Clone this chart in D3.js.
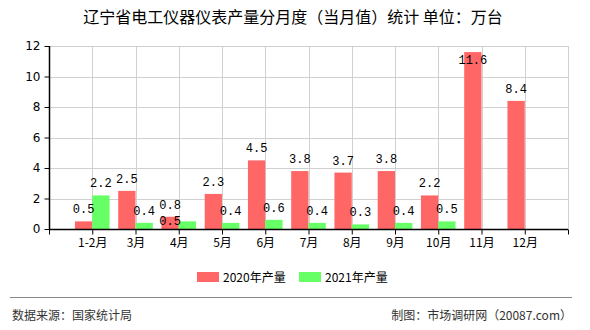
<!DOCTYPE html>
<html>
<head>
<meta charset="utf-8">
<script src="https://cdn.jsdelivr.net/npm/d3@7/dist/d3.min.js"></script>
<style>
  body { margin: 0; background: #fff; }
  svg { display: block; font-family: "Noto Sans CJK SC", "Noto Sans", sans-serif; }
</style>
</head>
<body>
<div id="chart"></div>
<script>
// data
const categories = ["1-2月", "3月", "4月", "5月", "6月", "7月", "8月", "9月", "10月", "11月", "12月"];
const values2020 = [0.5, 2.5, 0.8, 2.3, 4.5, 3.8, 3.7, 3.8, 2.2, 11.6, 8.4];
const values2021 = [2.2, 0.4, 0.5, 0.4, 0.6, 0.4, 0.3, 0.4, 0.5, null, null];
const yTicks = [0, 2, 4, 6, 8, 10, 12];
const seriesNames = ["2020年产量", "2021年产量"];
const colors = ["#ff6666", "#66ff66"];

const W = 590, H = 330;
const plot = { left: 49, right: 568, top: 46, bottom: 229 };

const svg = d3.select("#chart").append("svg")
    .attr("width", W).attr("height", H);
svg.append("rect").attr("width", W).attr("height", H).attr("fill", "#fff");

// title
svg.append("text")
    .attr("x", 293).attr("y", 23)
    .attr("text-anchor", "middle")
    .attr("font-size", "16px")
    .attr("fill", "#000")
    .text("辽宁省电工仪器仪表产量分月度（当月值）统计 单位：万台");

// scales
const x = d3.scalePoint()
    .domain(categories)
    .range([plot.left, plot.right])
    .padding(1);
const step = x.step();
const bw = step * 0.4;

const y = d3.scaleLinear()
    .domain([0, 12])
    .range([plot.bottom, plot.top]);

// grid
const grid = svg.append("g").attr("stroke", "#d0d0d0").attr("stroke-width", 1);
yTicks.filter(t => t > 0).forEach(t => {
    grid.append("line")
        .attr("x1", plot.left).attr("x2", plot.right)
        .attr("y1", Math.round(y(t)) + 0.5).attr("y2", Math.round(y(t)) + 0.5);
});
categories.concat([null]).forEach((c, i) => {
    const xx = c ? x(c) : plot.right;
    grid.append("line")
        .attr("x1", Math.round(xx) + 0.5).attr("x2", Math.round(xx) + 0.5)
        .attr("y1", plot.top).attr("y2", plot.bottom);
});

// bars
const series = [values2020, values2021];
series.forEach((vals, s) => {
    svg.append("g").selectAll("rect")
        .data(vals.map((v, i) => ({ c: categories[i], v })).filter(d => d.v != null))
        .join("rect")
        .attr("x", d => s === 0 ? x(d.c) - bw : x(d.c))
        .attr("y", d => y(d.v))
        .attr("width", bw)
        .attr("height", d => plot.bottom - y(d.v))
        .attr("fill", colors[s]);
});

// axes
const yAxis = svg.append("g")
    .attr("transform", `translate(${plot.left + 0.5},0)`)
    .call(d3.axisLeft(y).tickValues(yTicks).tickSize(5).tickPadding(4).tickFormat(d3.format("d")));
const xAxis = svg.append("g")
    .attr("transform", `translate(0,${plot.bottom + 0.5})`)
    .call(d3.axisBottom(x).tickSize(5).tickPadding(4));
// ticks at both ends of the x axis
[plot.left, plot.right].forEach(xx => {
    xAxis.append("line")
        .attr("x1", xx + 0.5).attr("x2", xx + 0.5)
        .attr("y1", 0).attr("y2", 5)
        .attr("stroke", "#000");
});
[yAxis, xAxis].forEach(a => {
    a.select(".domain").attr("stroke", "#000").attr("stroke-width", 1.5);
    a.selectAll(".tick line").attr("stroke", "#000");
    a.selectAll("text").attr("font-size", "12px").attr("fill", "#000")
        .attr("font-family", "'DejaVu Sans', sans-serif");
});
xAxis.select(".domain").attr("d", `M${plot.left},0H${plot.right}`);
yAxis.select(".domain").attr("d", `M0,${plot.bottom}V${plot.top}`);
xAxis.selectAll(".tick text").attr("font-family", "'Noto Sans CJK SC', sans-serif");

// value labels
const labelW = 20, labelH = 10;
const labels = [];
series.forEach((vals, s) => {
    vals.forEach((v, i) => {
        if (v == null) return;
        const c = categories[i];
        let cx = s === 0 ? x(c) - bw / 2 : x(c) + bw / 2;
        let base = y(v) - 8;
        // keep the label inside the plot: put it just under the bar top
        if (base - labelH < plot.top) base = y(v) + 12;
        // move the second label under the first one when they collide
        const other = labels.find(l => l.i === i && l.s !== s);
        if (other && Math.abs(other.cx - cx) < labelW && Math.abs(other.base - base) < labelH + 2) {
            cx = other.cx;
            base = other.base + 16;
        }
        labels.push({ i, s, cx, base, v });
    });
});
svg.append("g").selectAll("text")
    .data(labels)
    .join("text")
    .attr("x", d => d.cx)
    .attr("y", d => d.base)
    .attr("text-anchor", "middle")
    .attr("font-size", "12px")
    .attr("font-family", "'Liberation Mono', monospace")
    .attr("fill", "#000")
    .text(d => d3.format(".1f")(d.v));

// legend
const legend = svg.append("g");
[{ x: 197 }, { x: 299 }].forEach((p, i) => {
    legend.append("rect")
        .attr("x", p.x).attr("y", 272)
        .attr("width", 22).attr("height", 10)
        .attr("fill", colors[i]);
    legend.append("text")
        .attr("x", p.x + 26).attr("y", 282)
        .attr("font-size", "12px")
        .attr("fill", "#000")
        .text(seriesNames[i]);
});

// footer
svg.append("line")
    .attr("x1", 10).attr("x2", 572)
    .attr("y1", 297.5).attr("y2", 297.5)
    .attr("stroke", "#888").attr("stroke-width", 1);
svg.append("text")
    .attr("x", 12).attr("y", 320)
    .attr("font-size", "12px").attr("fill", "#333")
    .text("数据来源：国家统计局");
svg.append("text")
    .attr("x", 572).attr("y", 320)
    .attr("text-anchor", "end")
    .attr("font-size", "12px").attr("fill", "#333")
    .text("制图：市场调研网（20087.com）");
</script>
</body>
</html>
